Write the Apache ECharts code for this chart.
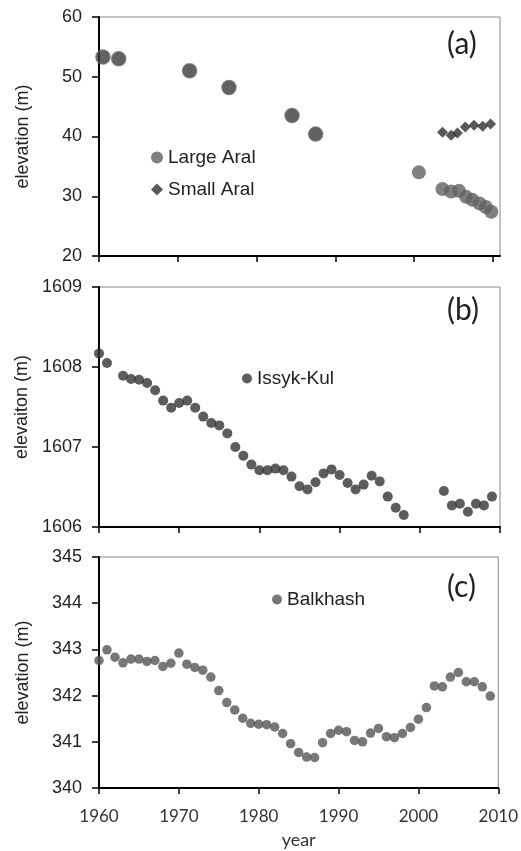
<!DOCTYPE html>
<html>
<head>
<meta charset="utf-8">
<script src="https://cdn.jsdelivr.net/npm/echarts@6/dist/echarts.min.js"></script>
<style>
  html, body { margin: 0; padding: 0; background: #fff; }
  #chart { width: 521px; height: 851px; }
</style>
</head>
<body>
<div id="chart"></div>
<script>
  // x ticks shared by the three panels
  var xTicks = [1960, 1970, 1980, 1990, 2000, 2010]

  // (a) Aral Sea
  var aralYears = [1960.5, 1962.5, 1971.5, 1976.5, 1984.5, 1987.5]
  var aralVals = [53.3, 53.0, 51.0, 48.2, 43.5, 40.4]
  var largeYears = [2000.6, 2003.6, 2004.7, 2005.7, 2006.6, 2007.4, 2008.3, 2009.1, 2009.8]
  var largeVals = [34.0, 31.2, 30.8, 30.9, 29.9, 29.4, 28.8, 28.2, 27.4]
  var smallYears = [2003.6, 2004.7, 2005.5, 2006.5, 2007.6, 2008.7, 2009.7]
  var smallVals = [40.7, 40.2, 40.6, 41.6, 41.9, 41.7, 42.1]
  var aTicks = [20, 30, 40, 50, 60]

  // (b) Issyk-Kul
  var issykYears = [1960, 1961, 1963, 1964, 1965, 1966, 1967, 1968, 1969, 1970,
    1971, 1972, 1973, 1974, 1975, 1976, 1977, 1978, 1979, 1980,
    1981, 1982, 1983, 1984, 1985, 1986, 1987, 1988, 1989, 1990,
    1991, 1992, 1993, 1994, 1995, 1996, 1997, 1998,
    2003, 2004, 2005, 2006, 2007, 2008, 2009]
  var issykVals = [1608.17, 1608.05, 1607.89, 1607.85, 1607.84, 1607.80, 1607.71, 1607.58, 1607.49, 1607.55,
    1607.58, 1607.49, 1607.38, 1607.30, 1607.27, 1607.17, 1607.00, 1606.89, 1606.78, 1606.71,
    1606.71, 1606.73, 1606.71, 1606.63, 1606.51, 1606.47, 1606.56, 1606.67, 1606.72, 1606.65,
    1606.55, 1606.47, 1606.53, 1606.64, 1606.57, 1606.38, 1606.24, 1606.15,
    1606.45, 1606.27, 1606.29, 1606.19, 1606.29, 1606.27, 1606.38]
  var bTicks = [1606, 1607, 1608, 1609]

  // (c) Balkhash
  var balkYears = []
  for (var y = 1960; y <= 2009; y++) balkYears.push(y)
  var balkVals = [342.76, 342.99, 342.83, 342.71, 342.79, 342.79, 342.74, 342.76, 342.63, 342.70,
    342.92, 342.68, 342.61, 342.55, 342.40, 342.11, 341.85, 341.69, 341.51, 341.40,
    341.38, 341.37, 341.32, 341.18, 340.96, 340.77, 340.67, 340.66, 340.98, 341.18,
    341.25, 341.22, 341.03, 341.00, 341.19, 341.29, 341.11, 341.09, 341.18, 341.31,
    341.49, 341.74, 342.21, 342.19, 342.40, 342.50, 342.30, 342.30, 342.19, 341.99]
  var cTicks = [340, 341, 342, 343, 344, 345]

  function pairs(xs, ys) {
    var out = []
    for (var i = 0; i < xs.length; i++) out.push([xs[i], ys[i]])
    return out
  }

  function plain(v) {
    return String(v)
  }

  var tickFont = 'Liberation Sans, Arial, sans-serif'
  var calFont = 'Lato, sans-serif'

  function xAxis(idx, max, showLabels) {
    return {
      type: 'value',
      gridIndex: idx,
      min: xTicks[0],
      max: max,
      interval: 10,
      splitLine: { show: false },
      axisLine: { onZero: false, lineStyle: { color: '#000', width: 2 } },
      axisTick: { show: true, length: 6, customValues: xTicks, lineStyle: { color: '#000', width: 1.5 } },
      axisLabel: {
        show: showLabels,
        customValues: xTicks,
        formatter: plain,
        margin: 20,
        fontFamily: calFont,
        fontSize: 17,
        color: '#333'
      },
      name: showLabels ? 'year' : '',
      nameLocation: 'middle',
      nameGap: 43,
      nameTextStyle: { fontFamily: calFont, fontSize: 18, color: '#333' }
    }
  }

  function yAxis(idx, ticks, name) {
    return {
      type: 'value',
      gridIndex: idx,
      min: ticks[0],
      max: ticks[ticks.length - 1],
      interval: ticks[1] - ticks[0],
      splitLine: { show: false },
      axisLine: { onZero: false, lineStyle: { color: '#000', width: 2 } },
      axisTick: { show: true, length: 7, lineStyle: { color: '#000', width: 1.5 } },
      axisLabel: { margin: 17, formatter: plain, fontFamily: tickFont, fontSize: 18, color: '#222' },
      name: name,
      nameLocation: 'middle',
      nameGap: 67,
      nameTextStyle: { fontFamily: tickFont, fontSize: 18, color: '#222' }
    }
  }

  var grids = [
    { left: 99, top: 17, width: 401, height: 239 },
    { left: 99, top: 287, width: 401, height: 240 },
    { left: 99, top: 557, width: 401, height: 231 }
  ]
  grids.forEach(function (g) {
    g.show = true
    g.borderColor = '#888'
    g.borderWidth = 1
    g.backgroundColor = 'transparent'
  })

  function panelLabel(text, top) {
    return {
      text: text,
      left: 447,
      top: top,
      padding: 0,
      textStyle: { fontFamily: calFont, fontSize: 30, fontWeight: 'normal', color: '#222' }
    }
  }

  var legendText = { fontFamily: tickFont, fontSize: 19, color: '#222' }

  var chart = echarts.init(document.getElementById('chart'), null, { renderer: 'canvas' })
  chart.setOption({
    animation: false,
    backgroundColor: '#fff',
    grid: grids,
    title: [panelLabel('(a)', 29), panelLabel('(b)', 295), panelLabel('(c)', 572)],
    legend: [
      {
        data: [{ name: 'Large Aral', icon: 'circle' }, { name: 'Small Aral', icon: 'diamond' }],
        orient: 'vertical',
        left: 151,
        top: 148,
        padding: 0,
        itemGap: 13,
        itemWidth: 12,
        itemHeight: 12,
        textStyle: legendText
      },
      {
        data: [{ name: 'Issyk-Kul', icon: 'circle' }],
        left: 242,
        top: 369,
        padding: 0,
        itemWidth: 10,
        itemHeight: 10,
        textStyle: legendText
      },
      {
        data: [{ name: 'Balkhash', icon: 'circle' }],
        left: 272,
        top: 590,
        padding: 0,
        itemWidth: 10,
        itemHeight: 10,
        textStyle: legendText
      }
    ],
    xAxis: [xAxis(0, 2010.9, false), xAxis(1, 2010, false), xAxis(2, 2010, true)],
    yAxis: [
      yAxis(0, aTicks, 'elevation (m)'),
      yAxis(1, bTicks, 'elevaiton (m)'),
      yAxis(2, cTicks, 'elevation (m)')
    ],
    series: [
      {
        name: 'Aral Sea',
        type: 'scatter',
        xAxisIndex: 0,
        yAxisIndex: 0,
        symbol: 'circle',
        symbolSize: 14,
        itemStyle: { color: '#3a3a3a', borderColor: '#6a6a6a', borderWidth: 1.5 },
        data: pairs(aralYears, aralVals)
      },
      {
        name: 'Large Aral',
        type: 'scatter',
        xAxisIndex: 0,
        yAxisIndex: 0,
        symbol: 'circle',
        symbolSize: 14,
        itemStyle: { color: '#626262' },
        data: pairs(largeYears, largeVals)
      },
      {
        name: 'Small Aral',
        type: 'scatter',
        xAxisIndex: 0,
        yAxisIndex: 0,
        symbol: 'diamond',
        symbolSize: 11,
        itemStyle: { color: '#303030' },
        data: pairs(smallYears, smallVals)
      },
      {
        name: 'Issyk-Kul',
        type: 'scatter',
        xAxisIndex: 1,
        yAxisIndex: 1,
        symbol: 'circle',
        symbolSize: 10,
        itemStyle: { color: '#353535' },
        data: pairs(issykYears, issykVals)
      },
      {
        name: 'Balkhash',
        type: 'scatter',
        xAxisIndex: 2,
        yAxisIndex: 2,
        symbol: 'circle',
        symbolSize: 9.5,
        itemStyle: { color: '#555555' },
        data: pairs(balkYears, balkVals)
      }
    ]
  })
  window.addEventListener('resize', function () {
    chart.resize()
  })
</script>
</body>
</html>
